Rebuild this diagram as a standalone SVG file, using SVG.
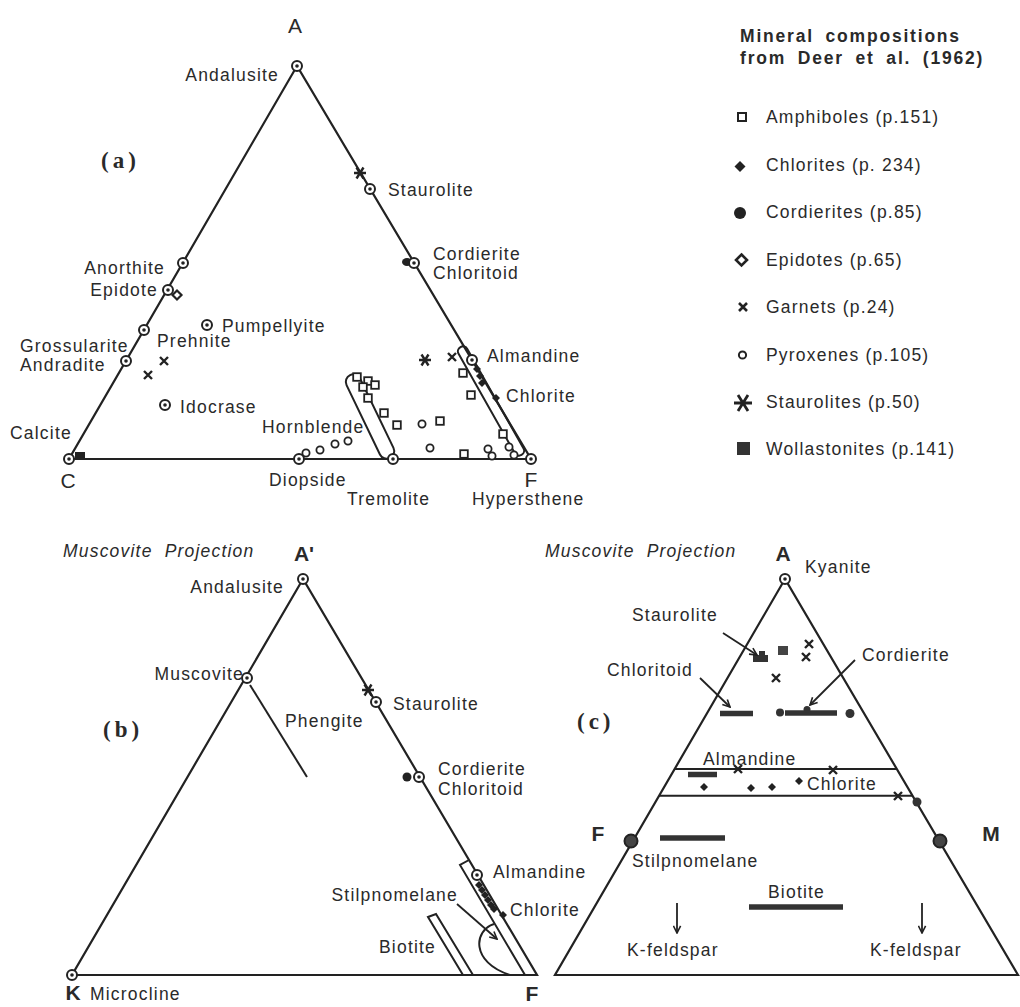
<svg xmlns="http://www.w3.org/2000/svg" xmlns:xlink="http://www.w3.org/1999/xlink" width="1020" height="1007" viewBox="0 0 1020 1007">
<style>
.t{font-family:"Liberation Sans",Arial,Helvetica,sans-serif;font-size:17.5px;letter-spacing:1.2px;fill:#2a2a2a}
.e{text-anchor:end}
.m{text-anchor:middle}
.big{font-size:21px;letter-spacing:0}
.b{font-weight:bold}
.it{font-style:italic;word-spacing:6px}
.ser{font-family:"Liberation Serif","Times New Roman",serif;font-weight:bold;font-size:23px;letter-spacing:4px;fill:#2a2a2a}
.ttl{font-weight:bold;font-size:17.5px;letter-spacing:1.8px;word-spacing:5px}
.edge{fill:none;stroke:#222;stroke-width:2.2;stroke-linejoin:miter}
.ln{fill:none;stroke:#222;stroke-width:2}
.bar{stroke:#333;stroke-width:5.5;fill:none}
.arr{fill:none;stroke:#222;stroke-width:1.8;marker-end:url(#ah)}
</style>
<defs>
<g id="cd"><circle r="5" fill="#fff" stroke="#222" stroke-width="2"/><circle r="1.8" fill="#222"/></g>
<rect id="sq" x="-3.8" y="-3.8" width="7.6" height="7.6" fill="#fff" stroke="#222" stroke-width="1.8"/>
<circle id="px" r="3.6" fill="#fff" stroke="#222" stroke-width="1.8"/>
<path id="gx" d="M-4,-4L4,4M4,-4L-4,4" stroke="#222" stroke-width="2.4" fill="none"/>
<path id="chl" d="M0,-4L4,0L0,4L-4,0Z" fill="#222"/>
<path id="ep" d="M0,-4.5L4.5,0L0,4.5L-4.5,0Z" fill="#fff" stroke="#222" stroke-width="2.2"/>
<path id="st" d="M-6,0H6M-3.5,-5.5L3.5,5.5M3.5,-5.5L-3.5,5.5" stroke="#222" stroke-width="2.4" fill="none"/>
<marker id="ah" viewBox="0 0 10 10" refX="9" refY="5" markerWidth="9" markerHeight="9" orient="auto" markerUnits="userSpaceOnUse"><path d="M1,1L9,5L1,9" fill="none" stroke="#222" stroke-width="1.8"/></marker>
</defs>
<rect width="1020" height="1007" fill="#fff"/>

<g id="diagram-a">
<polygon class="edge" points="297,66 69,459 531,459"/>
<rect x="-46" y="-7.5" width="92" height="15" rx="7.5" class="ln" transform="translate(370,416.5) rotate(64.3)"/>
<rect x="-62" y="-5" width="124" height="10" rx="5" class="ln" transform="translate(491,401) rotate(60.5)"/>
<rect x="75" y="452" width="10" height="7" fill="#222"/>
<ellipse cx="407" cy="262" rx="5" ry="4" fill="#222"/>
<use href="#cd" x="297" y="66"/>
<use href="#cd" x="183" y="263"/>
<use href="#cd" x="168" y="290"/>
<use href="#ep" x="177" y="295"/>
<use href="#cd" x="144" y="330"/>
<use href="#cd" x="126" y="361"/>
<use href="#cd" x="207" y="325"/>
<use href="#cd" x="165" y="405"/>
<use href="#cd" x="69" y="459"/>
<use href="#cd" x="299" y="459"/>
<use href="#cd" x="393" y="459"/>
<use href="#cd" x="531" y="459"/>
<use href="#st" x="360" y="173"/>
<use href="#cd" x="370" y="189"/>
<use href="#cd" x="414" y="263"/>
<use href="#cd" x="472" y="360"/>
<use href="#gx" x="164" y="361"/>
<use href="#gx" x="148" y="375"/>
<use href="#gx" x="452" y="357"/>
<use href="#st" x="425" y="360"/>
<use href="#chl" x="477" y="369"/>
<use href="#chl" x="480" y="376"/>
<use href="#chl" x="482" y="383"/>
<use href="#chl" x="496" y="398"/>
<use href="#sq" x="357" y="377"/>
<use href="#sq" x="368" y="381"/>
<use href="#sq" x="375" y="385"/>
<use href="#sq" x="363" y="387"/>
<use href="#sq" x="368" y="398"/>
<use href="#sq" x="384" y="413"/>
<use href="#sq" x="397" y="425"/>
<use href="#sq" x="440" y="421"/>
<use href="#sq" x="463" y="373"/>
<use href="#sq" x="471" y="395"/>
<use href="#sq" x="503" y="434"/>
<use href="#sq" x="464" y="454"/>
<use href="#px" x="306" y="453"/>
<use href="#px" x="320" y="450"/>
<use href="#px" x="335" y="444"/>
<use href="#px" x="348" y="441"/>
<use href="#px" x="422" y="424"/>
<use href="#px" x="430" y="448"/>
<use href="#px" x="488" y="449"/>
<use href="#px" x="492" y="456"/>
<use href="#px" x="509" y="447"/>
<use href="#px" x="514" y="455"/>
<text class="t big m" x="295" y="33">A</text>
<text class="t e" x="279" y="81">Andalusite</text>
<text class="ser" x="101" y="168">(a)</text>
<text class="t" x="388" y="196">Staurolite</text>
<text class="t e" x="165" y="274">Anorthite</text>
<text class="t e" x="158" y="296">Epidote</text>
<text class="t" x="433" y="260">Cordierite</text>
<text class="t" x="433" y="279">Chloritoid</text>
<text class="t" x="222" y="332">Pumpellyite</text>
<text class="t" x="20" y="352">Grossularite</text>
<text class="t" x="20" y="371">Andradite</text>
<text class="t" x="157" y="347">Prehnite</text>
<text class="t" x="487" y="362">Almandine</text>
<text class="t" x="506" y="402">Chlorite</text>
<text class="t" x="180" y="413">Idocrase</text>
<text class="t" x="262" y="433">Hornblende</text>
<text class="t" x="10" y="439">Calcite</text>
<text class="t big m" x="68" y="488">C</text>
<text class="t" x="269" y="486">Diopside</text>
<text class="t big m" x="531" y="487">F</text>
<text class="t" x="347" y="505">Tremolite</text>
<text class="t" x="472" y="505">Hypersthene</text>
</g>

<g id="legend">
<text class="t ttl" x="740" y="42">Mineral compositions</text>
<text class="t ttl" x="740" y="64">from Deer et al. (1962)</text>
<rect x="738" y="113" width="8" height="8" fill="#fff" stroke="#222" stroke-width="2"/>
<path d="M740,161L745.5,166.5L740,172L734.5,166.5Z" fill="#222"/>
<circle cx="740" cy="213" r="6" fill="#222"/>
<path d="M741.5,254.5L747,260L741.5,265.5L736,260Z" fill="#fff" stroke="#222" stroke-width="2.6"/>
<path d="M739,303L747,311M747,303L739,311" stroke="#222" stroke-width="2.6"/>
<circle cx="742.5" cy="355" r="3.6" fill="#fff" stroke="#222" stroke-width="2"/>
<path d="M734,403H752M738,395L748,411M748,395L738,411" stroke="#222" stroke-width="2.8"/>
<rect x="737" y="442" width="13" height="13" fill="#333"/>
<text class="t" x="766" y="123">Amphiboles (p.151)</text>
<text class="t" x="766" y="171">Chlorites (p. 234)</text>
<text class="t" x="766" y="218">Cordierites (p.85)</text>
<text class="t" x="766" y="266">Epidotes (p.65)</text>
<text class="t" x="766" y="313">Garnets (p.24)</text>
<text class="t" x="766" y="361">Pyroxenes (p.105)</text>
<text class="t" x="766" y="408">Staurolites (p.50)</text>
<text class="t" x="766" y="455">Wollastonites (p.141)</text>
</g>

<g id="diagram-b">
<polygon class="edge" points="303,579 72,975 537,975"/>
<path class="ln" d="M250,685L307,777"/>
<path class="ln" d="M469,860L460,865L525,975"/>
<polygon class="ln" points="428,917 436,914 473,975 463,975"/>
<path class="ln" d="M494,924C474,930 470,962 510,975"/>
<use href="#cd" x="303" y="579"/>
<use href="#cd" x="247" y="678"/>
<use href="#st" x="368" y="690"/>
<use href="#cd" x="376" y="702"/>
<circle cx="407" cy="777" r="4.5" fill="#222"/>
<use href="#cd" x="419" y="777"/>
<use href="#cd" x="72" y="975"/>
<use href="#chl" x="479" y="885"/>
<use href="#chl" x="482" y="890"/>
<use href="#chl" x="485" y="895"/>
<use href="#chl" x="488" y="900"/>
<use href="#chl" x="491" y="905"/>
<use href="#chl" x="494" y="909"/>
<use href="#chl" x="503" y="915"/>
<use href="#cd" x="477" y="875"/>
<text class="t it" x="63" y="557">Muscovite Projection</text>
<text class="t big b m" x="304" y="561">A'</text>
<text class="t e" x="284" y="593">Andalusite</text>
<text class="t e" x="244" y="680">Muscovite</text>
<text class="t" x="285" y="727">Phengite</text>
<text class="ser" x="103" y="737">(b)</text>
<text class="t" x="393" y="710">Staurolite</text>
<text class="t" x="438" y="775">Cordierite</text>
<text class="t" x="438" y="795">Chloritoid</text>
<text class="t" x="493" y="878">Almandine</text>
<text class="t e" x="458" y="901">Stilpnomelane</text>
<text class="t" x="510" y="916">Chlorite</text>
<text class="t" x="379" y="953">Biotite</text>
<text class="t big b m" x="73" y="1000">K</text>
<text class="t" x="90" y="1000">Microcline</text>
<text class="t big b m" x="532" y="1001">F</text>
</g>

<g id="diagram-c">
<polygon class="edge" points="785,579 555,975 1018,975"/>
<path class="ln" d="M674.6,769H896.7M659,795.7H912.4"/>
<path class="bar" d="M720,713.5H753"/>
<path class="bar" d="M785,713H837"/>
<circle cx="780" cy="712.5" r="4" fill="#333"/>
<circle cx="807" cy="709.5" r="3.5" fill="#333"/>
<circle cx="850" cy="713.5" r="4.5" fill="#333"/>
<path class="bar" d="M688,774.5H717"/>
<path class="bar" d="M660,838H725"/>
<path class="bar" d="M749,907H843"/>
<rect x="753" y="655" width="15" height="7" fill="#333"/>
<rect x="759" y="651" width="6" height="5" fill="#333"/>
<rect x="778" y="646" width="10" height="9" fill="#444"/>
<use href="#gx" x="809" y="644"/>
<use href="#gx" x="806" y="657"/>
<use href="#gx" x="776" y="678"/>
<use href="#gx" x="738" y="769"/>
<use href="#gx" x="833" y="770"/>
<use href="#gx" x="898" y="796"/>
<circle cx="917" cy="802" r="4.5" fill="#333"/>
<use href="#chl" x="704" y="787"/>
<use href="#chl" x="751" y="788"/>
<use href="#chl" x="772" y="787"/>
<use href="#chl" x="799" y="781"/>
<use href="#cd" x="785" y="579"/>
<g fill="#444" stroke="#222" stroke-width="2"><circle cx="631" cy="841" r="6.5"/><circle cx="940" cy="841" r="6.5"/></g>
<text class="t it" x="545" y="557">Muscovite Projection</text>
<text class="t big b m" x="783" y="561">A</text>
<text class="t" x="805" y="573">Kyanite</text>
<text class="t" x="632" y="621">Staurolite</text>
<text class="t" x="862" y="661">Cordierite</text>
<text class="t" x="607" y="676">Chloritoid</text>
<text class="ser" x="577" y="729">(c)</text>
<text class="t" x="703" y="765">Almandine</text>
<text class="t" x="807" y="790">Chlorite</text>
<text class="t big b m" x="598" y="841">F</text>
<text class="t big b m" x="991" y="841">M</text>
<text class="t" x="632" y="867">Stilpnomelane</text>
<text class="t" x="768" y="898">Biotite</text>
<text class="t" x="627" y="956">K-feldspar</text>
<text class="t" x="870" y="956">K-feldspar</text>
</g>

<g id="connectors">
<path class="arr" d="M457,904L497,939"/>
<path class="arr" d="M723,633L757,655"/>
<path class="arr" d="M700,678L730,707"/>
<path class="arr" d="M855,660L810,705"/>
<path class="arr" d="M677,903V933"/>
<path class="arr" d="M922,903V933"/>
</g>
</svg>
